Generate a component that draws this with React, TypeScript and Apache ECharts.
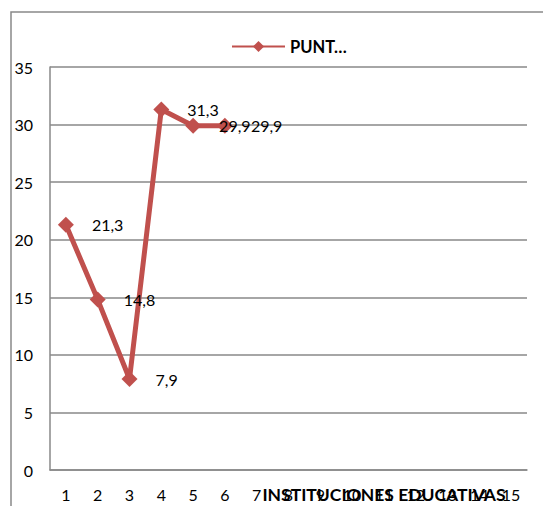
import React, { useEffect, useRef } from "react";
import * as echarts from "echarts";

const categories = ["1","2","3","4","5","6","7","8","9","10","11","12","13","14","15"];
const puntajes: (number | null)[] = [21.3, 14.8, 7.9, 31.3, 29.9, 29.9, null, null, null, null, null, null, null, null, null];
const seriesName = "PUNT…";
const xAxisTitle = "INSTITUCIONES EDUCATIVAS";
const yMin = 0;
const yMax = 35;
const yStep = 5;

export default function App() {
  const ref = useRef<HTMLDivElement>(null);
  useEffect(() => {
    if (!ref.current) return;
    const chart = echarts.init(ref.current, null, { renderer: "svg" });
    const font = "Lato, 'Open Sans', sans-serif";
    chart.setOption({
      animation: false,
      textStyle: { fontFamily: font },
      graphic: [
        {
          type: "rect",
          shape: { x: 11, y: 12, width: 700, height: 700 },
          style: { fill: "none", stroke: "#898989", lineWidth: 1.5 },
          silent: true,
        },
        {
          type: "text",
          x: 384,
          y: 494,
          style: {
            text: xAxisTitle,
            fontFamily: font,
            fontWeight: "bold",
            fontSize: 17.5,
            fill: "#000",
            align: "center",
            verticalAlign: "middle",
          },
          z: 100,
        },
      ],
      legend: {
        top: 33,
        left: 226,
        itemWidth: 53,
        itemHeight: 14,
        itemGap: 4,
        textStyle: { fontFamily: font, fontWeight: "bold", fontSize: 16.5, color: "#000", padding: [0, 0, 0, 0] },
        data: [{ name: seriesName }],
      },
      grid: { left: 50, right: 16, top: 67, bottom: 36 },
      xAxis: {
        type: "category",
        data: categories,
        boundaryGap: true,
        axisLine: { lineStyle: { color: "#898989", width: 1.5 } },
        axisTick: { show: false },
        axisLabel: { color: "#000", fontSize: 16, margin: 16, interval: 0, fontFamily: font },
      },
      yAxis: {
        type: "value",
        min: yMin,
        max: yMax,
        interval: yStep,
        axisLine: { show: true, lineStyle: { color: "#898989", width: 1.5 } },
        axisTick: { show: false },
        splitLine: { lineStyle: { color: "#898989", width: 1.5 } },
        axisLabel: { color: "#000", fontSize: 16, margin: 17, fontFamily: font },
      },
      series: [
        {
          name: seriesName,
          type: "line",
          data: puntajes,
          connectNulls: false,
          symbol: "diamond",
          symbolSize: 16,
          lineStyle: { color: "#C0504D", width: 5 },
          itemStyle: { color: "#C0504D" },
          label: {
            show: true,
            position: "right",
            distance: 18,
            color: "#000",
            fontSize: 16,
            fontFamily: font,
            formatter: (p: any) => String(p.value).replace(".", ","),
          },
        },
      ],
    });
    return () => chart.dispose();
  }, []);
  return (
    <div
      ref={ref}
      style={{ position: "fixed", left: 0, top: 0, width: 543, height: 506, background: "#fff" }}
    />
  );
}
